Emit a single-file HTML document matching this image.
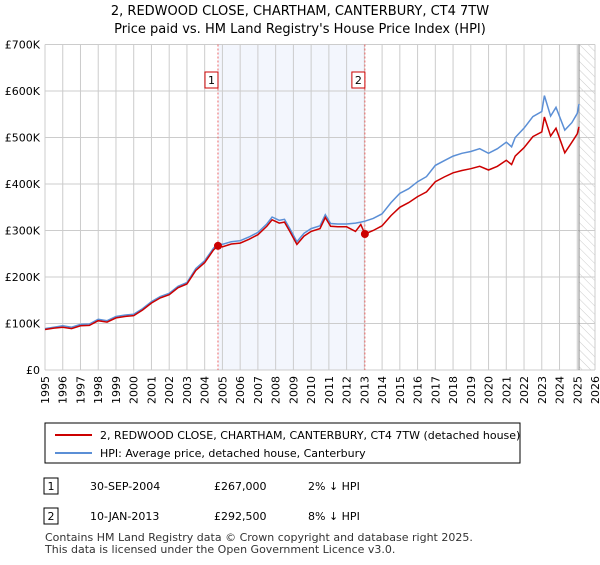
<!DOCTYPE html>
<html><head><meta charset="utf-8"><style>
body{margin:0;background:#fff;font-family:"Liberation Sans","DejaVu Sans",sans-serif;}
svg text{font-family:"DejaVu Sans","Liberation Sans",sans-serif;}
</style></head><body>
<svg id="c" width="600" height="560" viewBox="0 0 600 560" xmlns="http://www.w3.org/2000/svg">
<defs><pattern id="hatch" width="6" height="6" patternUnits="userSpaceOnUse" patternTransform="rotate(-45)"><line x1="0" y1="0" x2="0" y2="6" stroke="#ccc" stroke-width="1"/></pattern></defs>
<text x="300" y="15" text-anchor="middle" font-size="13" fill="#000">2, REDWOOD CLOSE, CHARTHAM, CANTERBURY, CT4 7TW</text>
<text x="300" y="33" text-anchor="middle" font-size="13" fill="#000">Price paid vs. HM Land Registry's House Price Index (HPI)</text>
<g id="plot"></g>
<rect x="45" y="423" width="475" height="40" fill="#fff" stroke="#000"/>
<line x1="55" y1="435" x2="92" y2="435" stroke="#cc0000" stroke-width="2"/>
<text x="100" y="439" font-size="11">2, REDWOOD CLOSE, CHARTHAM, CANTERBURY, CT4 7TW (detached house)</text>
<line x1="55" y1="453" x2="92" y2="453" stroke="#5b8fd6" stroke-width="2"/>
<text x="100" y="457" font-size="11">HPI: Average price, detached house, Canterbury</text>
<rect x="44" y="478" width="14" height="16" fill="#fff" stroke="#000"/>
<text x="51" y="490" font-size="11" text-anchor="middle">1</text>
<text x="90" y="490" font-size="11">30-SEP-2004</text>
<text x="214" y="490" font-size="11">£267,000</text>
<text x="308" y="490" font-size="11">2% ↓ HPI</text>
<rect x="44" y="508" width="14" height="16" fill="#fff" stroke="#000"/>
<text x="51" y="520" font-size="11" text-anchor="middle">2</text>
<text x="90" y="520" font-size="11">10-JAN-2013</text>
<text x="214" y="520" font-size="11">£292,500</text>
<text x="308" y="520" font-size="11">8% ↓ HPI</text>
<text x="45" y="541" font-size="11" fill="#333">Contains HM Land Registry data © Crown copyright and database right 2025.</text>
<text x="45" y="553" font-size="11" fill="#333">This data is licensed under the Open Government Licence v3.0.</text>
</svg>
<script>
const yearTicks=[1995,1996,1997,1998,1999,2000,2001,2002,2003,2004,2005,2006,2007,2008,2009,2010,2011,2012,2013,2014,2015,2016,2017,2018,2019,2020,2021,2022,2023,2024,2025,2026];
const priceTicks=[0,100,200,300,400,500,600,700];
const priceLabels=["£0","£100K","£200K","£300K","£400K","£500K","£600K","£700K"];
const hpiYears=[1995,1995.5,1996,1996.5,1997,1997.5,1998,1998.5,1999,1999.5,2000,2000.5,2001,2001.5,2002,2002.5,2003,2003.5,2004,2004.5,2004.75,2005,2005.5,2006,2006.5,2007,2007.5,2007.8,2008.2,2008.5,2008.8,2009.2,2009.6,2010,2010.5,2010.8,2011.1,2011.5,2012,2012.5,2012.8,2013.03,2013.5,2014,2014.5,2015,2015.5,2016,2016.5,2017,2017.5,2018,2018.5,2019,2019.5,2020,2020.5,2021,2021.3,2021.5,2022,2022.5,2023,2023.15,2023.5,2023.8,2024.3,2024.7,2025,2025.1];
const hpiValues=[89,92,95,92,98,99,109,106,115,118,120,132,147,158,165,180,188,218,235,262,272,270,276,278,286,296,314,329,322,324,304,276,294,304,310,334,315,314,314,316,318,320,326,336,360,380,390,405,416,440,450,460,466,470,476,466,476,490,480,500,520,545,556,590,546,565,516,532,552,572];
const priceYears=[1995,1995.5,1996,1996.5,1997,1997.5,1998,1998.5,1999,1999.5,2000,2000.5,2001,2001.5,2002,2002.5,2003,2003.5,2004,2004.5,2004.75,2005,2005.5,2006,2006.5,2007,2007.5,2007.8,2008.2,2008.5,2008.8,2009.2,2009.6,2010,2010.5,2010.8,2011.1,2011.5,2012,2012.5,2012.8,2013.03,2013.5,2014,2014.5,2015,2015.5,2016,2016.5,2017,2017.5,2018,2018.5,2019,2019.5,2020,2020.5,2021,2021.3,2021.5,2022,2022.5,2023,2023.15,2023.5,2023.8,2024.3,2024.7,2025,2025.1];
const priceValues=[87,90,92,89,95,96,106,103,112,115,117,129,144,155,162,177,185,214,231,258,267,265,271,273,281,291,309,323,316,318,298,270,288,298,304,328,309,308,308,298,313,292.5,300,310,332,350,360,373,383,405,415,424,429,433,438,430,438,451,442,460,478,502,512,544,503,520,467,490,508,523];
const sales=[[2004.75,267],[2013.03,292.5]];
const X0=45,X1=595,Y0=370,YT=44.5;
const xs=y=>X0+(y-1995)/(2026-1995)*(X1-X0);
const ys=v=>Y0-v/700*(Y0-YT);
const g=document.getElementById('plot');const NS='http://www.w3.org/2000/svg';
function mk(t,a){const e=document.createElementNS(NS,t);for(const k in a)e.setAttribute(k,a[k]);g.appendChild(e);return e;}
let e=mk('rect',{x:xs(2004.75),y:YT,width:xs(2013.03)-xs(2004.75),height:Y0-YT,fill:'#eef2fc',opacity:0.7});


e=mk('rect',{x:xs(2025.1),y:YT,width:X1-xs(2025.1),height:Y0-YT,fill:'url(#hatch)'});


yearTicks.forEach(y=>{const l=mk('line',{x1:xs(y),x2:xs(y),y1:YT,y2:Y0,stroke:'#ccc'});


const t=mk('text',{x:0,y:0,'font-size':11,'text-anchor':'end',transform:`translate(${xs(y)+4},${Y0+6}) rotate(-90)`});t.textContent=y;

});
priceTicks.forEach((v,i)=>{const l=mk('line',{x1:X0,x2:X1,y1:ys(v),y2:ys(v),stroke:'#ccc'});


const t=mk('text',{x:X0-5,y:ys(v)+4,'font-size':11,'text-anchor':'end'});t.textContent=priceLabels[i];

});
e=mk('line',{x1:xs(2025.1),x2:xs(2025.1),y1:YT,y2:Y0,stroke:'#888','stroke-width':1});


sales.forEach((s,i)=>{const l=mk('line',{x1:xs(s[0]),x2:xs(s[0]),y1:YT,y2:Y0,stroke:'#e66','stroke-dasharray':'2,2'});


const b=mk('rect',{x:xs(s[0])-13,y:72,width:13,height:16,fill:'#fff',stroke:'#cc0000'});


const t=mk('text',{x:xs(s[0])-6.5,y:84,'font-size':11,'text-anchor':'middle'});t.textContent=i+1;

});
function path(xa,va,c,n){const p=mk('path',{d:xa.map((x,i)=>(i?'L':'M')+xs(x).toFixed(1)+','+ys(va[i]).toFixed(1)).join(''),fill:'none',stroke:c,'stroke-width':1.5});

}
path(hpiYears,hpiValues,'#5b8fd6','hpi-line');
path(priceYears,priceValues,'#cc0000','price-paid-line');
sales.forEach(s=>{const c=mk('circle',{cx:xs(s[0]),cy:ys(s[1]),r:4,fill:'#cc0000'});

});
</script>
</body></html>
